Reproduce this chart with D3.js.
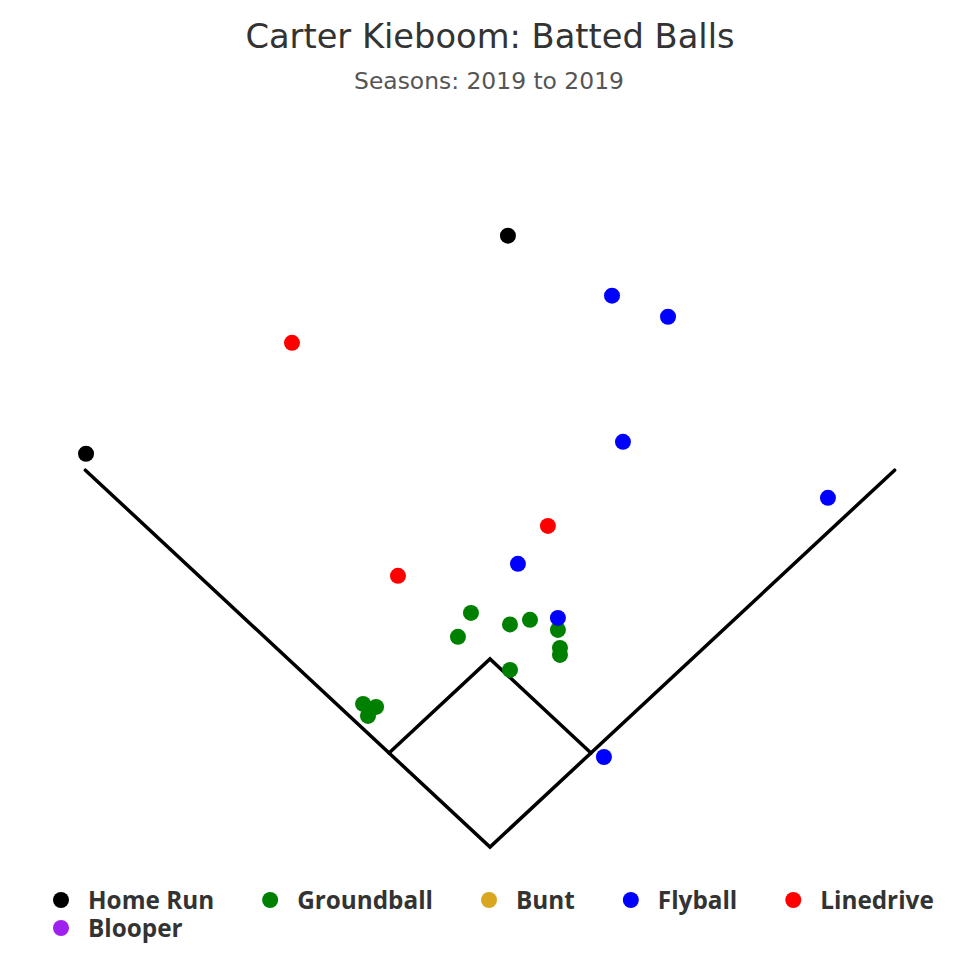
<!DOCTYPE html>
<html>
<head>
<meta charset="utf-8">
<script src="https://cdn.jsdelivr.net/npm/d3@7"></script>
<style>
  body { margin: 0; background: #fff; }
</style>
</head>
<body>
<div id="chart"></div>
<script>
'use strict';

// feet from home plate: x = left/right, y = toward center field
var categories = ['Home Run', 'Groundball', 'Bunt', 'Flyball', 'Linedrive', 'Blooper'];
var colors = ['#000000', '#008000', '#daa520', '#0000ff', '#ff0000', '#a020f0'];

var homeRun = [[11.3, 413.7], [-254.6, 266.1]];
var groundball = [[-12.0, 158.4], [25.2, 153.7], [12.6, 150.6], [-20.2, 142.2], [42.8, 146.9],
  [44.1, 134.7], [44.1, 130.0], [12.6, 119.8], [-80.0, 96.8], [-71.8, 94.8], [-76.9, 88.7]];
var bunt = [];
var flyball = [[76.9, 373.1], [112.2, 358.8], [83.8, 274.2], [213.0, 236.3], [17.6, 191.6],
  [42.8, 155.0], [71.8, 60.9]];
var linedrive = [[-124.8, 341.2], [36.5, 217.3], [-58.0, 183.5]];
var blooper = [];

var seriesData = [homeRun, groundball, bunt, flyball, linedrive, blooper];

var baseDiag = 63.64;   // 90 ft base path
var foulLen = 255;      // foul line end, per axis

var width = 980, height = 980;

var svg = d3.select('#chart').append('svg')
  .attr('width', width)
  .attr('height', height)
  .style('font-family', '"DejaVu Sans", sans-serif');

svg.append('text')
  .attr('x', width / 2)
  .attr('y', 48)
  .attr('text-anchor', 'middle')
  .attr('fill', '#333')
  .attr('font-size', 33.7)
  .text('Carter Kieboom: Batted Balls');

svg.append('text')
  .attr('x', width / 2 - 1)
  .attr('y', 89)
  .attr('text-anchor', 'middle')
  .attr('fill', '#555')
  .attr('font-size', 23.4)
  .text('Seasons: 2019 to 2019');

var x = d3.scaleLinear().domain([-300, 300]).range([14, 966]);
var y = d3.scaleLinear().domain([0, 450]).range([847, 182]);

var line = d3.line()
  .x(function(d) { return x(d[0]); })
  .y(function(d) { return y(d[1]); });

var field = svg.append('g')
  .attr('fill', 'none')
  .attr('stroke', '#000')
  .attr('stroke-width', 3.5)
  .attr('stroke-linecap', 'round')
  .attr('stroke-linejoin', 'miter');

field.append('path')
  .attr('d', line([[-foulLen, foulLen], [0, 0], [foulLen, foulLen]]));

field.append('path')
  .attr('d', line([[-baseDiag, baseDiag], [0, 2 * baseDiag], [baseDiag, baseDiag]]));

var points = svg.append('g');
seriesData.forEach(function(data, i) {
  points.append('g')
    .selectAll('circle')
    .data(data)
    .enter().append('circle')
    .attr('cx', function(d) { return x(d[0]); })
    .attr('cy', function(d) { return y(d[1]); })
    .attr('r', 8)
    .attr('fill', colors[i]);
});

// legend, laid out like highcharts: symbol, label, then gap
var legend = svg.append('g')
  .attr('font-family', '"Open Sans", sans-serif')
  .attr('font-weight', 'bold')
  .attr('font-size', 24.3)
  .attr('fill', '#333');

var lx = 61, ly = 900;
categories.forEach(function(name, i) {
  var item = legend.append('g');
  item.append('circle')
    .attr('cx', 0)
    .attr('cy', 0)
    .attr('r', 8)
    .attr('fill', colors[i]);
  var label = item.append('text')
    .attr('x', 27)
    .attr('y', 0)
    .attr('dy', '0.35em')
    .text(name);
  var w = label.node().getComputedTextLength();
  if (lx + 27 + w > 960) {
    lx = 61;
    ly += 28;
  }
  item.attr('transform', 'translate(' + lx + ',' + ly + ')');
  lx += 27 + w + 56;
});
</script>
</body>
</html>
